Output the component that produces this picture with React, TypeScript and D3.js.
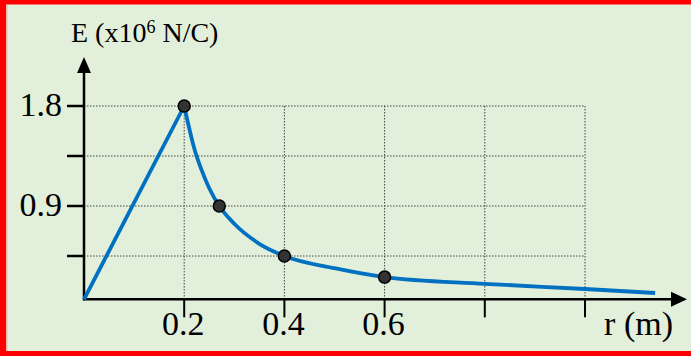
import React from "react";
import * as d3 from "d3";

// ---- data ----
const riseR = [0, 0.2];
const riseE = [0.06, 1.8];
const decayR = [0.2, 0.21, 0.22, 0.235, 0.25, 0.27, 0.3, 0.35, 0.4, 0.5, 0.6, 0.8, 1.0, 1.14];
const decayE = [1.8, 1.6, 1.42, 1.22, 1.06, 0.9, 0.74, 0.56, 0.45, 0.34, 0.26, 0.2, 0.153, 0.117];
const markerR = [0.2, 0.27, 0.4, 0.6];
const markerE = [1.8, 0.9, 0.45, 0.26];
const xTicks = [0.2, 0.4, 0.6, 0.8, 1.0];
const xTickLabels = ["0.2", "0.4", "0.6", "", ""];
const yTicks = [0.45, 0.9, 1.35, 1.8];
const yTickLabels = ["", "0.9", "", "1.8"];
const axisE = 0.06; // level where the r axis is drawn

const W = 691;
const H = 356;
const FONT = "'Liberation Serif', 'Times New Roman', serif";

export default function App() {
  const x = d3.scaleLinear().domain([0, 1]).range([84, 585]);
  const y = d3.scaleLinear().domain([0, 1.8]).range([306, 106]);
  const x0 = x(0);
  const yAxis = y(axisE);

  const line = d3
    .line<[number, number]>()
    .x((d) => x(d[0]))
    .y((d) => y(d[1]));
  const riseData: [number, number][] = riseR.map((r, i) => [r, riseE[i]]);
  const decayData: [number, number][] = decayR.map((r, i) => [r, decayE[i]]);
  const decayLine = d3
    .line<[number, number]>()
    .x((d) => x(d[0]))
    .y((d) => y(d[1]))
    .curve(d3.curveMonotoneX);

  const gridTop = y(1.8);
  const gridRight = x(1.0);

  return (
    <svg
      width={W}
      height={H}
      style={{ position: "absolute", left: 0, top: 0, display: "block" }}
      fontFamily={FONT}
    >
      <rect x={0} y={0} width={W} height={H} fill="#e2efda" />
      {/* red frame */}
      <rect x={0} y={0} width={6} height={H} fill="#ff0000" />
      <rect x={0} y={0} width={W} height={4.5} fill="#ff0000" />
      <rect x={0} y={351} width={W} height={5} fill="#ff0000" />
      <rect x={6} y={4.5} width={1.5} height={346.5} fill="#ff8080" opacity={0.5} />

      {/* grid */}
      <g stroke="#444" strokeWidth={1} strokeDasharray="1.5,1.5" fill="none">
        {yTicks.map((t) => (
          <line key={"gy" + t} x1={x0} x2={gridRight} y1={y(t)} y2={y(t)} />
        ))}
        {xTicks.map((t) => (
          <line key={"gx" + t} x1={x(t)} x2={x(t)} y1={gridTop} y2={yAxis} />
        ))}
      </g>

      {/* axes */}
      <g stroke="#000" strokeWidth={2.5}>
        <line x1={x0} x2={x0} y1={yAxis + 1} y2={70} />
        <line x1={x0 - 1} x2={673} y1={yAxis} y2={yAxis} />
        {yTicks.map((t) => (
          <line key={"ty" + t} x1={67} x2={x0} y1={y(t)} y2={y(t)} />
        ))}
        {xTicks.map((t) => (
          <line key={"tx" + t} x1={x(t)} x2={x(t)} y1={yAxis} y2={yAxis + 18} strokeWidth={2} />
        ))}
      </g>
      <path d={`M${x0},57 L${x0 - 7},73 L${x0 + 7},73 Z`} fill="#000" />
      <path d={`M687,${yAxis} L671,${yAxis - 7.5} L671,${yAxis + 7.5} Z`} fill="#000" />

      {/* curve */}
      <path d={line(riseData) || ""} fill="none" stroke="#0070c0" strokeWidth={3.8} />
      <path d={decayLine(decayData) || ""} fill="none" stroke="#0070c0" strokeWidth={3.8} />

      {/* markers */}
      {markerR.map((r, i) => (
        <circle key={"m" + i} cx={x(r)} cy={y(markerE[i])} r={6} fill="#333" stroke="#000" strokeWidth={1.5} />
      ))}

      {/* tick labels */}
      <g fontSize={34} fill="#000">
        {yTicks.map((t, i) =>
          yTickLabels[i] ? (
            <text key={"ly" + t} x={62} y={y(t) + 10} textAnchor="end">
              {yTickLabels[i]}
            </text>
          ) : null
        )}
        {xTicks.map((t, i) =>
          xTickLabels[i] ? (
            <text key={"lx" + t} x={x(t) - 1} y={335} textAnchor="middle">
              {xTickLabels[i]}
            </text>
          ) : null
        )}
        <text x={673} y={335} textAnchor="end">r (m)</text>
      </g>

      {/* y axis title */}
      <text x={71} y={42} fontSize={28} fill="#000">
        E (x10
        <tspan fontSize={18} dy={-9}>6</tspan>
        <tspan dy={9}> N/C)</tspan>
      </text>
    </svg>
  );
}
